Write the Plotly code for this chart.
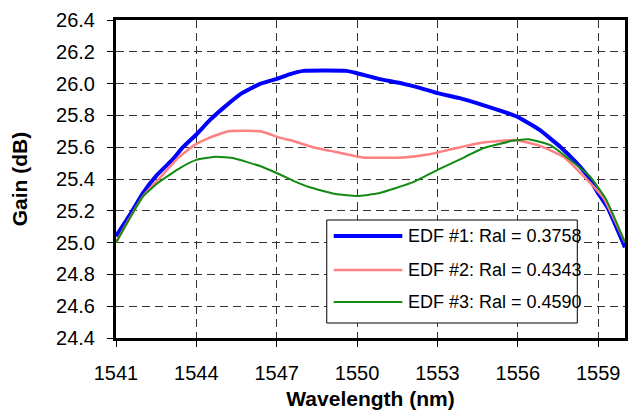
import plotly.graph_objects as go

# Gain spectra of three erbium-doped fibres
wl_edf1 = [1541.0, 1541.5, 1542.0, 1542.5, 1543.1, 1543.5, 1544.0, 1544.5, 1545.1,
           1545.7, 1546.4, 1547.0, 1547.5, 1548.0, 1549.6, 1550.0, 1550.8, 1551.7,
           1552.4, 1553.0, 1553.8, 1554.7, 1555.7, 1556.0, 1556.8, 1557.6, 1558.2,
           1558.6, 1559.0, 1559.35, 1560.0]
gain_edf1 = [25.04, 25.17, 25.31, 25.42, 25.52, 25.60, 25.68, 25.77, 25.86,
             25.94, 26.00, 26.03, 26.06, 26.08, 26.08, 26.065, 26.03, 26.00,
             25.97, 25.94, 25.91, 25.865, 25.81, 25.79, 25.71, 25.60, 25.50,
             25.42, 25.31, 25.22, 24.97]

wl_edf2 = [1541.0, 1541.5, 1542.0, 1542.6, 1543.3, 1543.9, 1544.5, 1545.2, 1546.4,
           1547.1, 1547.5, 1548.35, 1549.2, 1550.2, 1551.7, 1552.7, 1553.5, 1554.7,
           1555.9, 1556.8, 1557.7, 1558.5, 1559.2, 1560.0]
gain_edf2 = [25.00, 25.15, 25.29, 25.40, 25.53, 25.61, 25.66, 25.70, 25.70,
             25.66, 25.645, 25.60, 25.57, 25.535, 25.535, 25.555, 25.587, 25.63,
             25.645, 25.61, 25.54, 25.41, 25.28, 25.00]

wl_edf3 = [1541.0, 1541.5, 1542.0, 1542.6, 1543.4, 1544.0, 1544.75, 1545.4, 1546.4,
           1547.1, 1547.6, 1548.2, 1549.2, 1550.0, 1550.8, 1552.1, 1553.0, 1553.8,
           1554.7, 1555.8, 1556.4, 1557.2, 1557.8, 1558.7, 1559.3, 1560.0]
gain_edf3 = [25.00, 25.15, 25.29, 25.38, 25.47, 25.52, 25.54, 25.53, 25.48,
             25.43, 25.39, 25.35, 25.305, 25.293, 25.31, 25.38, 25.457, 25.52,
             25.593, 25.64, 25.65, 25.614, 25.54, 25.414, 25.27, 25.00]

series_names = ["EDF #1: Ral = 0.3758", "EDF #2: Ral = 0.4343", "EDF #3: Ral = 0.4590"]
x_ticks = [1541, 1544, 1547, 1550, 1553, 1556, 1559]
y_ticks = [24.4, 24.6, 24.8, 25.0, 25.2, 25.4, 25.6, 25.8, 26.0, 26.2, 26.4]

colors = ["#0000ff", "#ff8080", "#138a13"]
widths = [4, 2.5, 2]

W, H = 630, 413
ML, MR, MT, MB = 116, 2, 20, 75
PW, PH = W - ML - MR, H - MT - MB

font_family = "Arial, Liberation Sans, sans-serif"

fig = go.Figure()
for wl, g, name, c, w in zip([wl_edf1, wl_edf2, wl_edf3],
                             [gain_edf1, gain_edf2, gain_edf3],
                             series_names, colors, widths):
    fig.add_trace(go.Scatter(x=wl, y=g, mode="lines", name=name,
                             line=dict(color=c, width=w, shape="spline", smoothing=0.4),
                             showlegend=False))


def px_x(p):
    return (p - ML) / PW


def px_y(p):
    return (H - MB - p) / PH


# legend box drawn in paper coordinates
shapes = [dict(type="rect", xref="paper", yref="paper",
               x0=px_x(328), x1=px_x(580), y0=px_y(323), y1=px_y(220),
               line=dict(color="black", width=1), fillcolor="white", layer="above")]
annotations = []
row_y = [236, 270, 302]
for name, c, w, ry in zip(series_names, colors, widths, row_y):
    shapes.append(dict(type="line", xref="paper", yref="paper",
                       x0=px_x(335), x1=px_x(404), y0=px_y(ry), y1=px_y(ry),
                       line=dict(color=c, width=w), layer="above"))
    annotations.append(dict(xref="paper", yref="paper", x=px_x(408), y=px_y(ry),
                            text=name, showarrow=False, xanchor="left", yanchor="middle",
                            font=dict(family=font_family, size=18, color="black")))

axis_common = dict(
    showline=True, linecolor="black", linewidth=3, mirror=True,
    ticks="outside", ticklen=6, tickcolor="black", tickwidth=1,
    showgrid=True, gridcolor="#333333", gridwidth=1, griddash="8px,5px",
    zeroline=False,
    tickfont=dict(family=font_family, size=20, color="black"),
)

fig.update_layout(
    width=W, height=H,
    margin=dict(l=ML, r=MR, t=MT, b=MB),
    paper_bgcolor="white", plot_bgcolor="white",
    shapes=shapes, annotations=annotations,
    xaxis=dict(range=[1541, 1560], tickvals=x_ticks,
               ticklabelstandoff=9,
               title=dict(text="<b>Wavelength (nm)</b>", standoff=9,
                          font=dict(family=font_family, size=21, color="black")),
               **axis_common),
    yaxis=dict(range=[24.4, 26.4], tickvals=y_ticks, tickformat=".1f",
               ticklabelstandoff=8,
               title=dict(text="<b>Gain (dB)</b>", standoff=23,
                          font=dict(family=font_family, size=21, color="black")),
               **axis_common),
)

fig.write_html("out.html")
